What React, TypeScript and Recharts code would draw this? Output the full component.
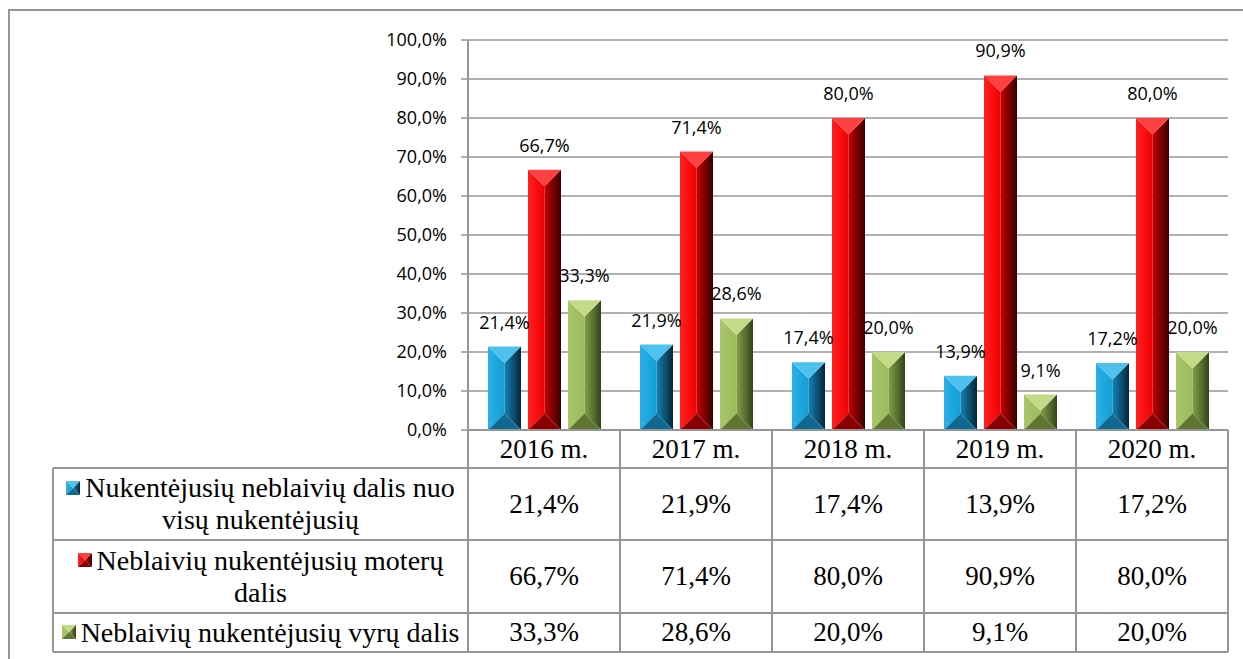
import React from 'react';
import { BarChart, Bar, XAxis, YAxis, CartesianGrid, LabelList } from 'recharts';

const categories = ['2016 m.', '2017 m.', '2018 m.', '2019 m.', '2020 m.'];
const shareAll = [21.4, 21.9, 17.4, 13.9, 17.2];
const shareWomen = [66.7, 71.4, 80.0, 90.9, 80.0];
const shareMen = [33.3, 28.6, 20.0, 9.1, 20.0];
const seriesLabels = [
  ['Nukentėjusių neblaivių dalis nuo', 'visų nukentėjusių'],
  ['Neblaivių nukentėjusių moterų', 'dalis'],
  ['Neblaivių nukentėjusių vyrų dalis'],
];
const yTicks = [0, 10, 20, 30, 40, 50, 60, 70, 80, 90, 100];

const data = categories.map((c, i) => ({ cat: c, a: shareAll[i], w: shareWomen[i], m: shareMen[i] }));
const seriesValues = [shareAll, shareWomen, shareMen];
const seriesKeys = ['a', 'w', 'm'];

const W = 1243;
const H = 659;
const PLOT_LEFT = 468;
const PLOT_RIGHT = 1228;
const PLOT_TOP = 40;
const PLOT_BOTTOM = 430;
const Y_AXIS_W = 60;
const X_AXIS_H = 38;
const ROW_BOUNDS = [430, 468, 540, 613, 652];
const TABLE_LEFT = 53;
const GRID = '#969696';
const SERIF = 'Liberation Serif';

const palettes = [
  { id: 'blue', l1: '#2AB0E6', l2: '#139ED6', r1: '#1283B4', r2: '#052638', top: '#4DC2EE', bot: '#0F6A92' },
  { id: 'red', l1: '#FF2020', l2: '#F00000', r1: '#C40000', r2: '#380000', top: '#FF4040', bot: '#8A0000' },
  { id: 'green', l1: '#AAC66C', l2: '#9BBB59', r1: '#84A048', r2: '#36421A', top: '#C3DA88', bot: '#5F7630' },
];

const fmt = (v: number) => `${v.toFixed(1).replace('.', ',')}%`;

function Defs() {
  return (
    <defs>
      {palettes.map((p) => (
        <React.Fragment key={p.id}>
          <linearGradient id={`${p.id}-l`} x1="0" y1="0" x2="1" y2="0">
            <stop offset="0%" stopColor={p.l1} />
            <stop offset="100%" stopColor={p.l2} />
          </linearGradient>
          <linearGradient id={`${p.id}-r`} x1="0" y1="0" x2="1" y2="0">
            <stop offset="0%" stopColor={p.r1} />
            <stop offset="100%" stopColor={p.r2} />
          </linearGradient>
        </React.Fragment>
      ))}
    </defs>
  );
}

function bevelPolys(x: number, y: number, w: number, h: number, pi: number) {
  const p = palettes[pi];
  const d = Math.min(w / 2, h / 2);
  const cx = x + w / 2;
  return (
    <g>
      <polygon points={`${x},${y} ${cx},${y + d} ${cx},${y + h - d} ${x},${y + h}`} fill={`url(#${p.id}-l)`} />
      <polygon points={`${x + w},${y} ${cx},${y + d} ${cx},${y + h - d} ${x + w},${y + h}`} fill={`url(#${p.id}-r)`} />
      <polygon points={`${x},${y} ${x + w},${y} ${cx},${y + d}`} fill={p.top} />
      <polygon points={`${x},${y + h} ${x + w},${y + h} ${cx},${y + h - d}`} fill={p.bot} />
    </g>
  );
}

const makeShape = (pi: number) => (props: any) => {
  const { x, y, width, height } = props;
  if (!width || !height) return <g />;
  return bevelPolys(x, y, width, height, pi);
};

const labelContent = (props: any) => {
  const { x, y, width, value } = props;
  return (
    <text x={x + width / 2} y={y - 18} textAnchor="middle" fill="#000" fontSize={18} fontFamily="Open Sans">
      {fmt(value)}
    </text>
  );
};

const XTick = (props: any) => {
  const { x, y, payload } = props;
  return (
    <text x={x} y={y} dy={28} textAnchor="middle" fill="#000" fontSize={27} fontFamily={SERIF}>
      {payload.value}
    </text>
  );
};

function Swatch({ pi }: { pi: number }) {
  return (
    <svg width={14} height={14} style={{ display: 'inline-block', verticalAlign: 'middle', marginRight: 5, position: 'relative', top: -3 }}>
      <Defs />
      {bevelPolys(0, 0, 14, 14, pi)}
    </svg>
  );
}

export default function App() {
  const colW = (PLOT_RIGHT - PLOT_LEFT) / categories.length;
  const colX = categories.map((_, i) => PLOT_LEFT + i * colW);
  return (
    <div style={{ position: 'fixed', left: 0, top: 0, width: W, height: H, overflow: 'hidden', background: '#fff' }}>
      <BarChart
        width={W}
        height={H}
        data={data}
        margin={{ top: PLOT_TOP, right: W - PLOT_RIGHT, left: PLOT_LEFT - Y_AXIS_W, bottom: H - PLOT_BOTTOM - X_AXIS_H }}
        barCategoryGap={20}
        barGap={7}
      >
        <Defs />
        <CartesianGrid horizontal vertical={false} stroke={GRID} strokeWidth={1.5} />
        <XAxis
          dataKey="cat"
          height={X_AXIS_H}
          tickLine={false}
          tickSize={0}
          tickMargin={0}
          axisLine={{ stroke: GRID, strokeWidth: 2 }}
          tick={<XTick />}
          interval={0}
        />
        <YAxis
          width={Y_AXIS_W}
          domain={[0, 100]}
          ticks={yTicks}
          interval={0}
          tickFormatter={fmt}
          tickSize={7}
          tickMargin={14}
          axisLine={{ stroke: GRID, strokeWidth: 2 }}
          tickLine={{ stroke: GRID, strokeWidth: 1.5 }}
          tick={{ fill: '#000', fontSize: 18, fontFamily: 'Open Sans' }}
        />
        {seriesKeys.map((k, i) => (
          <Bar key={k} dataKey={k} isAnimationActive={false} shape={makeShape(i)}>
            <LabelList dataKey={k} content={labelContent} />
          </Bar>
        ))}
      </BarChart>

      <svg width={W} height={H} style={{ position: 'absolute', left: 0, top: 0, pointerEvents: 'none' }}>
        <line x1={8} y1={10} x2={W} y2={10} stroke={GRID} strokeWidth={2} />
        <line x1={9} y1={10} x2={9} y2={H} stroke={GRID} strokeWidth={2} />
        <line x1={PLOT_LEFT} y1={ROW_BOUNDS[0]} x2={PLOT_RIGHT} y2={ROW_BOUNDS[0]} stroke={GRID} strokeWidth={2} />
        {ROW_BOUNDS.slice(1).map((ry, i) => (
          <line key={`r${i}`} x1={TABLE_LEFT} y1={ry} x2={PLOT_RIGHT} y2={ry} stroke={GRID} strokeWidth={2} />
        ))}
        <line x1={TABLE_LEFT} y1={ROW_BOUNDS[1]} x2={TABLE_LEFT} y2={ROW_BOUNDS[4]} stroke={GRID} strokeWidth={2} />
        {[...colX, PLOT_RIGHT].map((cx, i) => (
          <line key={`c${i}`} x1={cx} y1={ROW_BOUNDS[0]} x2={cx} y2={ROW_BOUNDS[4]} stroke={GRID} strokeWidth={2} />
        ))}
      </svg>

      {seriesLabels.map((lines, si) => (
        <div
          key={`lab${si}`}
          style={{
            position: 'absolute',
            left: TABLE_LEFT,
            top: ROW_BOUNDS[si + 1],
            width: PLOT_LEFT - TABLE_LEFT,
            height: ROW_BOUNDS[si + 2] - ROW_BOUNDS[si + 1],
            display: 'flex',
            flexDirection: 'column',
            justifyContent: 'center',
            alignItems: 'center',
            color: '#000',
            whiteSpace: 'nowrap',
          }}
        >
          {lines.map((ln, li) => (
            <div key={li} style={{ fontFamily: SERIF, fontSize: 28, lineHeight: '32px' }}>
              {li === 0 && <Swatch pi={si} />}
              {ln}
            </div>
          ))}
        </div>
      ))}

      {seriesValues.map((vals, si) =>
        vals.map((v, ci) => (
          <div
            key={`v${si}-${ci}`}
            style={{
              position: 'absolute',
              left: colX[ci],
              top: ROW_BOUNDS[si + 1],
              width: colW,
              height: ROW_BOUNDS[si + 2] - ROW_BOUNDS[si + 1],
              display: 'flex',
              justifyContent: 'center',
              alignItems: 'center',
              fontFamily: SERIF,
              fontSize: 27,
              color: '#000',
            }}
          >
            {fmt(v)}
          </div>
        ))
      )}
    </div>
  );
}
